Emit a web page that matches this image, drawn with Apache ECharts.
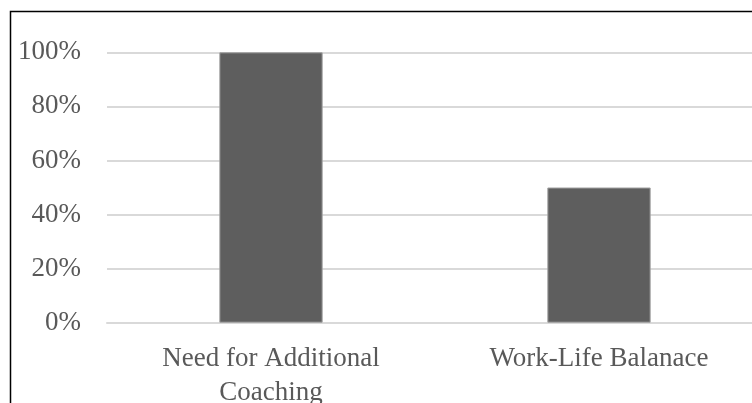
<!DOCTYPE html>
<html>
<head>
<meta charset="utf-8">
<script src="https://cdn.jsdelivr.net/npm/echarts@6/dist/echarts.min.js"></script>
<style>
  html, body { margin: 0; padding: 0; background: #fff; }
  #chart { width: 752px; height: 403px; }
</style>
</head>
<body>
<div id="chart"></div>
<script>
// Share of responses per theme
const categories = ['Need for Additional\nCoaching', 'Work-Life Balanace'];
const shares = [1.0, 0.5];
const yTicks = { min: 0, max: 1.0, interval: 0.2 };

const textColor = '#595959';
const fontFamily = '"Liberation Serif", "DejaVu Serif", serif';

const chart = echarts.init(document.getElementById('chart'), null, { renderer: 'canvas' });

chart.setOption({
  animation: false,
  backgroundColor: '#ffffff',
  graphic: [{
    type: 'rect',
    silent: true,
    shape: { x: 10.5, y: 11.5, width: 2000, height: 2000 },
    style: { fill: 'none', stroke: '#000000', lineWidth: 1.5 }
  }],
  // plot area runs past the right edge of the frame
  grid: {
    left: 107, top: 52.3, width: 656, height: 270.4,
    containLabel: false,
    outerBoundsMode: 'none'
  },
  xAxis: {
    type: 'category',
    data: categories,
    axisTick: { show: false },
    axisLine: { show: true, lineStyle: { color: '#d9d9d9', width: 2 } },
    axisLabel: {
      color: textColor,
      fontFamily: fontFamily,
      fontSize: 27,
      lineHeight: 34,
      margin: 19,
      interval: 0
    }
  },
  yAxis: {
    type: 'value',
    min: yTicks.min,
    max: yTicks.max,
    interval: yTicks.interval,
    axisLine: { show: false },
    axisTick: { show: false },
    splitLine: { lineStyle: { color: '#d9d9d9', width: 2 } },
    axisLabel: {
      color: textColor,
      fontFamily: fontFamily,
      fontSize: 27,
      margin: 26,
      formatter: v => Math.round(v * 100) + '%'
    }
  },
  series: [{
    type: 'bar',
    data: shares,
    barWidth: '31.5%',
    itemStyle: { color: '#5e5e5e', borderColor: '#a0a0a0', borderWidth: 1 }
  }]
});
</script>
</body>
</html>
